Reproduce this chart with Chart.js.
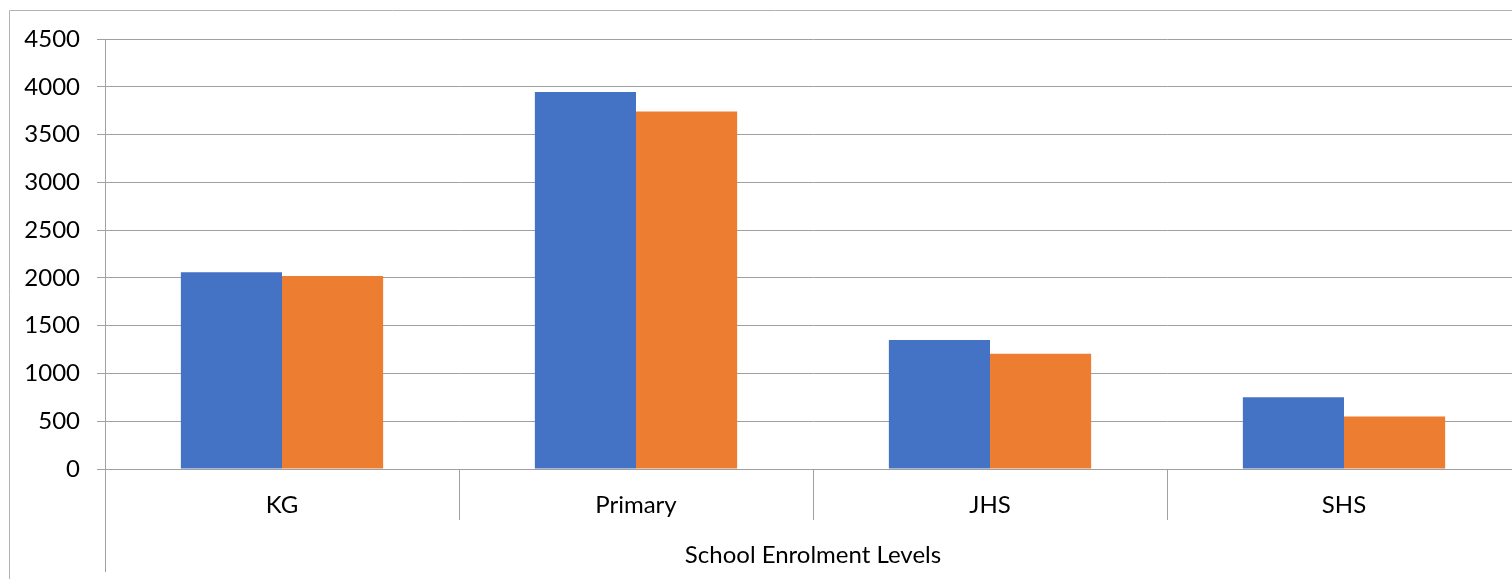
<!DOCTYPE html>
<html>
<head>
<meta charset="utf-8">
<script src="https://cdn.jsdelivr.net/npm/chart.js@4.4.0/dist/chart.umd.min.js"></script>
<style>
  html, body { margin: 0; padding: 0; background: #fff; overflow: hidden; width: 1512px; height: 579px; }
  #wrap { position: absolute; left: 0; top: 0; width: 1540px; height: 579px; }
</style>
</head>
<body>
<div id="wrap"><canvas id="c" width="1540" height="579"></canvas></div>
<script>
const categories = ["KG", "Primary", "JHS", "SHS"];
const seriesA = [2060, 3945, 1350, 750];
const seriesB = [2020, 3740, 1205, 550];
const yTicks = [0, 500, 1000, 1500, 2000, 2500, 3000, 3500, 4000, 4500];
const axisTitle = "School Enrolment Levels";

const GRAY = "#a0a0a0";
const FONT = "Lato, 'Open Sans', sans-serif";

const decor = {
  id: "decor",
  beforeDraw(chart) {
    const ctx = chart.ctx;
    ctx.save();
    ctx.strokeStyle = "#b3b3b3";
    ctx.lineWidth = 1;
    ctx.beginPath();
    ctx.moveTo(9.5, chart.height + 5);
    ctx.lineTo(9.5, 10.5);
    ctx.lineTo(chart.width + 5, 10.5);
    ctx.stroke();
    ctx.restore();
  },
  afterDraw(chart) {
    const ctx = chart.ctx;
    const x = chart.scales.x;
    const area = chart.chartArea;
    ctx.save();
    ctx.strokeStyle = GRAY;
    ctx.lineWidth = 1;
    ctx.beginPath();
    for (let i = 0; i <= categories.length; i++) {
      const px = Math.round(x.getPixelForValue(i - 0.5)) + 0.5;
      const yEnd = (i === 0) ? area.bottom + 103 : area.bottom + 51;
      ctx.moveTo(px, area.bottom);
      ctx.lineTo(px, yEnd);
    }
    ctx.stroke();
    ctx.restore();
  }
};

new Chart(document.getElementById("c"), {
  type: "bar",
  data: {
    labels: categories,
    datasets: [
      { label: "Series1", data: seriesA, backgroundColor: "#4472c4", borderWidth: 0 },
      { label: "Series2", data: seriesB, backgroundColor: "#ed7d31", borderWidth: 0 }
    ]
  },
  options: {
    responsive: false,
    animation: false,
    devicePixelRatio: 1,
    layout: { padding: { top: 39, right: 19, bottom: 0, left: 0 } },
    plugins: { legend: { display: false }, tooltip: { enabled: false } },
    datasets: { bar: { categoryPercentage: 2 / 3.5, barPercentage: 1 } },
    scales: {
      x: {
        grid: { display: false, drawTicks: false },
        border: { display: true, color: GRAY, width: 1 },
        ticks: { color: "#000", font: { family: FONT, size: 24 }, padding: 22 },
        title: { display: true, text: axisTitle, color: "#000", font: { family: FONT, size: 24 }, padding: { top: 0, bottom: 9 } },
        afterFit(s) { s.height = 110; }
      },
      y: {
        min: 0, max: 4500,
        afterBuildTicks(s) { s.ticks = yTicks.map(v => ({ value: v })); },
        grid: { color: GRAY, tickLength: 8, drawTicks: true },
        border: { display: true, color: GRAY },
        ticks: { color: "#000", font: { family: FONT, size: 24 }, padding: 17, callback: v => String(v) },
        afterFit(s) { s.width = 105; }
      }
    }
  },
  plugins: [decor]
});
</script>
</body>
</html>
